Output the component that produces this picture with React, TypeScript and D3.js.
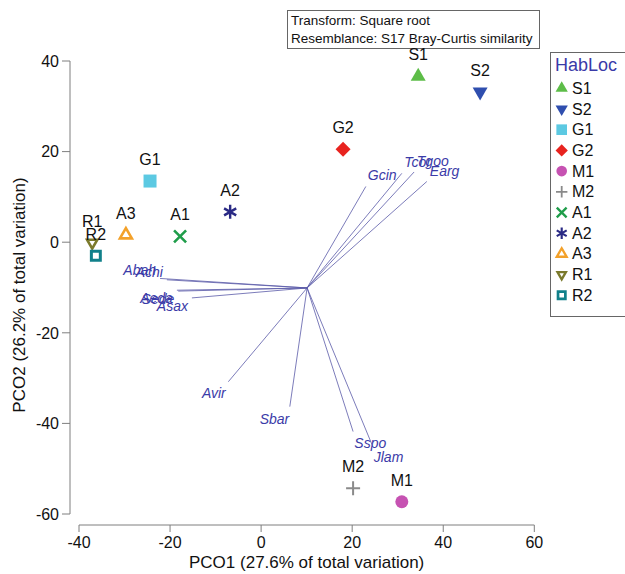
import * as d3 from 'd3'

const sampleNames = ['S1', 'S2', 'G1', 'G2', 'M1', 'M2', 'A1', 'A2', 'A3', 'R1', 'R2']
const pco1 = [34.5, 48.1, -24.4, 18.0, 30.9, 20.2, -17.8, -6.8, -29.7, -37.1, -36.3]
const pco2 = [36.6, 33.2, 13.5, 20.5, -57.3, -54.3, 1.3, 6.7, 1.6, -0.1, -3.0]

const vectorNames = ['Gcin', 'Tcor', 'Tgoo', 'Earg', 'Abah', 'Achi', 'Aeda', 'Sede', 'Asax', 'Avir', 'Sbar', 'Sspo', 'Jlam']
const vectorX = [23.0, 30.9, 33.6, 36.4, -22.2, -20.7, -18.5, -18.2, -15.2, -7.2, 6.3, 20.2, 24.4]
const vectorY = [12.3, 15.2, 15.5, 13.4, -8.0, -8.3, -10.6, -10.8, -12.3, -30.8, -36.3, -41.8, -44.8]
const vectorOrigin = [10.1, -10.1]

const xTicks = [-40, -20, 0, 20, 40, 60]
const yTicks = [-60, -40, -20, 0, 20, 40]

const infoLines = ['Transform: Square root', 'Resemblance: S17 Bray-Curtis similarity']

type Marker = { symbol: d3.SymbolType; size: number; color: string; filled: boolean; rotate: number; width: number }

const markers: Record<string, Marker> = {
  S1: { symbol: d3.symbolTriangle, size: 97, color: '#5dbd48', filled: true, rotate: 0, width: 0 },
  S2: { symbol: d3.symbolTriangle, size: 97, color: '#2f4eae', filled: true, rotate: 180, width: 0 },
  G1: { symbol: d3.symbolSquare, size: 169, color: '#5cc9e2', filled: true, rotate: 0, width: 0 },
  G2: { symbol: d3.symbolSquare, size: 112, color: '#e8231f', filled: true, rotate: 45, width: 0 },
  M1: { symbol: d3.symbolCircle, size: 133, color: '#c652b2', filled: true, rotate: 0, width: 0 },
  M2: { symbol: d3.symbolPlus, size: 66, color: '#8a8a8a', filled: false, rotate: 0, width: 2 },
  A1: { symbol: d3.symbolTimes, size: 96, color: '#1f9d4a', filled: false, rotate: 0, width: 2.6 },
  A2: { symbol: d3.symbolAsterisk, size: 138, color: '#2a2a85', filled: false, rotate: 0, width: 2.4 },
  A3: { symbol: d3.symbolTriangle, size: 62, color: '#f3a12a', filled: false, rotate: 0, width: 2.6 },
  R1: { symbol: d3.symbolTriangle, size: 45, color: '#7b7a2c', filled: false, rotate: 180, width: 2.6 },
  R2: { symbol: d3.symbolSquare, size: 80, color: '#11808a', filled: false, rotate: 0, width: 3 },
}

const font = "'Liberation Sans', Arial, sans-serif"
const axisColor = '#7f7f7f'
const vecColor = '#3b3ba8'

const MarkerPath = ({ name, x, y, scale = 1 }: { name: string; x: number; y: number; scale?: number }) => {
  const m = markers[name]
  const d = d3.symbol().type(m.symbol).size(m.size * scale * scale)() || ''
  return (
    <path
      d={d}
      transform={`translate(${x},${y}) rotate(${m.rotate})`}
      fill={m.filled ? m.color : 'none'}
      stroke={m.filled ? 'none' : m.color}
      strokeWidth={m.width * (scale < 1 ? 0.9 : 1)}
    />
  )
}

export default function App() {
  const width = 625
  const height = 574

  const x = d3.scaleLinear().domain([-40, 60]).range([79, 534.3])
  const y = d3.scaleLinear().domain([-60, 40]).range([514, 61])
  const xAxisY = 525
  const yAxisX = 70

  const ox = x(vectorOrigin[0])
  const oy = y(vectorOrigin[1])

  const vectors = vectorNames.map((name, i) => {
    const ex = x(vectorX[i])
    const ey = y(vectorY[i])
    const len = Math.hypot(ex - ox, ey - oy)
    const ux = (ex - ox) / len
    const uy = (ey - oy) / len
    const lx = ex + ux * 4
    const ly = ey + uy * 4 + (uy < 0 ? -8 : 8)
    return (
      <g key={name}>
        <line x1={ox} y1={oy} x2={ex} y2={ey} stroke="#5a5aa8" strokeWidth={0.8} />
        <text
          x={lx}
          y={ly}
          fontSize={14}
          fontStyle="italic"
          fill={vecColor}
          textAnchor={ux > 0 ? 'start' : 'end'}
          dominantBaseline="central"
        >
          {name}
        </text>
      </g>
    )
  })

  const points = sampleNames.map((name, i) => {
    const px = x(pco1[i])
    const py = y(pco2[i])
    return (
      <g key={name}>
        <MarkerPath name={name} x={px} y={py} />
        <text x={px} y={py - 16} fontSize={16} textAnchor="middle" fill="#111">
          {name}
        </text>
      </g>
    )
  })

  const legendX = 550
  const legendY = 52
  const rowH = 20.7

  return (
    <svg
      width={width}
      height={height}
      style={{ position: 'absolute', left: 0, top: 0, background: '#fff' }}
      fontFamily={font}
    >
      {/* info box */}
      <rect x={287.5} y={10.5} width={252} height={38} fill="#fff" stroke="#666" />
      {infoLines.map((t, i) => (
        <text key={t} x={291} y={25 + i * 17.5} fontSize={13.5} fill="#111">
          {t}
        </text>
      ))}

      {/* x axis */}
      <line x1={x(-40)} x2={x(60)} y1={xAxisY} y2={xAxisY} stroke={axisColor} />
      {xTicks.map((t) => (
        <g key={t}>
          <line x1={x(t)} x2={x(t)} y1={xAxisY} y2={xAxisY + 7} stroke={axisColor} />
          <text x={x(t)} y={548} fontSize={16} textAnchor="middle" fill="#111">
            {t}
          </text>
        </g>
      ))}
      <text x={(x(-40) + x(60)) / 2} y={568} fontSize={17} textAnchor="middle" fill="#111">
        PCO1 (27.6% of total variation)
      </text>

      {/* y axis */}
      <line x1={yAxisX} x2={yAxisX} y1={y(-60)} y2={y(40)} stroke={axisColor} />
      {yTicks.map((t) => (
        <g key={t}>
          <line x1={yAxisX - 8} x2={yAxisX} y1={y(t)} y2={y(t)} stroke={axisColor} />
          <text x={59} y={y(t) + 5.7} fontSize={16} textAnchor="end" fill="#111">
            {t}
          </text>
        </g>
      ))}
      <text
        transform={`translate(25,${295}) rotate(-90)`}
        fontSize={17}
        textAnchor="middle"
        fill="#111"
      >
        PCO2 (26.2% of total variation)
      </text>

      {vectors}
      {points}

      {/* legend */}
      <rect x={legendX + 0.5} y={legendY + 0.5} width={100} height={264} fill="#fff" stroke="#666" />
      <text x={555} y={71} fontSize={18} fill="#3a3aa8">
        HabLoc
      </text>
      {sampleNames.map((name, i) => (
        <g key={name}>
          <MarkerPath name={name} x={561.7} y={88.3 + i * rowH} scale={0.82} />
          <text x={572} y={88.3 + i * rowH + 5.5} fontSize={16} fill="#111">
            {name}
          </text>
        </g>
      ))}
    </svg>
  )
}
